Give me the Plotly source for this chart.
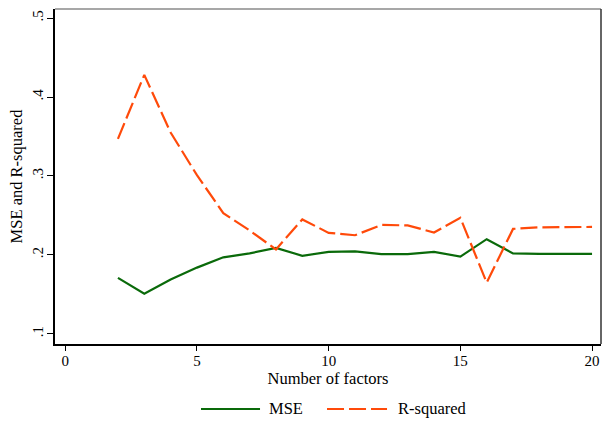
import plotly.graph_objects as go

# Number of factors retained and the fit statistics for each choice
factors = list(range(2, 21))
mse = [0.171, 0.151, 0.169, 0.184, 0.197, 0.202, 0.209, 0.199, 0.204, 0.2045,
       0.201, 0.201, 0.204, 0.198, 0.220, 0.202, 0.2015, 0.2015, 0.2015]
r_squared = [0.347, 0.428, 0.355, 0.301, 0.253, 0.231, 0.207, 0.245, 0.228, 0.225,
             0.238, 0.2375, 0.2285, 0.247, 0.165, 0.233, 0.235, 0.2355, 0.2355]

x_ticks = [0, 5, 10, 15, 20]
y_ticks = [0.1, 0.2, 0.3, 0.4, 0.5]
y_tick_labels = [".1", ".2", ".3", ".4", ".5"]

GREEN = "#0a6a0a"
ORANGE = "#ff4a0a"
FONT = "Liberation Serif"
TICK_SIZE = 15
TITLE_SIZE = 16.5

fig = go.Figure()
fig.add_trace(go.Scatter(x=factors, y=mse, mode="lines", name="MSE",
                         line=dict(color=GREEN, width=2.2)))
fig.add_trace(go.Scatter(x=factors, y=r_squared, mode="lines", name="R-squared",
                         line=dict(color=ORANGE, width=2.2, dash="17px,5px")))

fig.update_layout(
    width=602, height=424,
    margin=dict(l=55, r=1, t=9, b=80),
    paper_bgcolor="white", plot_bgcolor="white",
    showlegend=False,
    font=dict(family=FONT, size=TICK_SIZE, color="black"),
    xaxis=dict(range=[-0.39, 20.34], tickvals=x_ticks, ticks="outside",
               ticklen=5, tickwidth=1, tickcolor="black", showgrid=False,
               zeroline=False, showline=True, linecolor="black", linewidth=1.5,
               tickfont=dict(size=TICK_SIZE), ticklabelstandoff=-3,
               title=dict(text="Number of factors", standoff=3,
                          font=dict(size=TITLE_SIZE))),
    yaxis=dict(range=[0.0873, 0.5114], tickvals=y_ticks, ticktext=y_tick_labels,
               tickangle=-90, ticks="outside", ticklen=6, tickwidth=1,
               tickcolor="black", showgrid=False, zeroline=False, showline=True,
               linecolor="black", linewidth=1.5, tickfont=dict(size=TICK_SIZE),
               ticklabelstandoff=-2,
               title=dict(text="MSE and R-squared", standoff=3,
                          font=dict(size=TITLE_SIZE))),
)

# Top and right edges of the plot region
fig.add_shape(type="line", xref="paper", yref="paper", x0=0, x1=1, y0=1, y1=1,
              line=dict(color="#8a8a8a", width=1.5))
fig.add_shape(type="line", xref="paper", yref="paper", x0=1, x1=1, y0=0, y1=1,
              line=dict(color="#333333", width=1.5))

# Legend drawn beneath the axis title
legend_y = -0.194
legend_items = [
    (0.2674, 0.3755, 0.3883, "MSE", GREEN, "solid"),
    (0.4982, 0.6081, 0.6245, "R-squared", ORANGE, "17px,5px"),
]
for x0, x1, xt, label, color, dash in legend_items:
    fig.add_shape(type="line", xref="paper", yref="paper", x0=x0, x1=x1,
                  y0=legend_y, y1=legend_y, line=dict(color=color, width=2.2, dash=dash))
    fig.add_annotation(xref="paper", yref="paper", x=xt, y=legend_y, text=label,
                       showarrow=False, xanchor="left", yanchor="middle",
                       font=dict(family=FONT, size=TITLE_SIZE, color="black"))

fig.write_html("out.html")
